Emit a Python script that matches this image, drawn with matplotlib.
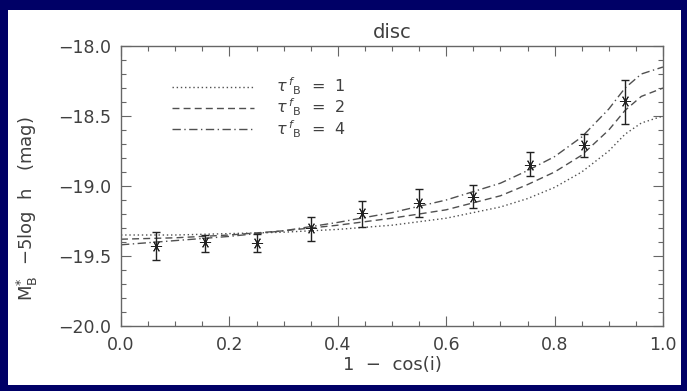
import matplotlib.pyplot as plt
import matplotlib.patches as mpatches

# measured points (1 - cos i) with error bars
x_obs = [0.065, 0.155, 0.25, 0.35, 0.445, 0.55, 0.65, 0.755, 0.855, 0.93]
y_obs = [-19.43, -19.40, -19.41, -19.30, -19.19, -19.12, -19.08, -18.85, -18.71, -18.39]
err_lo = [0.10, 0.07, 0.06, 0.09, 0.10, 0.10, 0.08, 0.08, 0.08, 0.17]
err_hi = [0.10, 0.05, 0.07, 0.08, 0.08, 0.10, 0.09, 0.09, 0.08, 0.15]

# model curves for the three face-on optical depths
x_mod = [0.0, 0.1, 0.2, 0.3, 0.4, 0.5, 0.6, 0.7, 0.75, 0.8, 0.85, 0.9, 0.93, 0.96, 1.0]
tau1 = [-19.35, -19.35, -19.34, -19.33, -19.31, -19.28, -19.23, -19.15, -19.09, -19.01, -18.90, -18.75, -18.63, -18.55, -18.50]
tau2 = [-19.38, -19.37, -19.35, -19.32, -19.28, -19.23, -19.17, -19.07, -18.99, -18.90, -18.78, -18.60, -18.46, -18.36, -18.30]
tau4 = [-19.42, -19.39, -19.36, -19.32, -19.26, -19.19, -19.10, -18.98, -18.89, -18.79, -18.65, -18.45, -18.30, -18.20, -18.15]

labels = [r"$\tau^{\,f}{}_{\rm B}$  =  1", r"$\tau^{\,f}{}_{\rm B}$  =  2", r"$\tau^{\,f}{}_{\rm B}$  =  4"]

ink = "#404040"
fig = plt.figure(figsize=(6.87, 3.91), dpi=100, facecolor="#000066")
# white panel inside the navy border
fig.add_artist(mpatches.Rectangle((8 / 687, 6 / 391), 673 / 687, 375 / 391,
                                  transform=fig.transFigure, facecolor="white",
                                  edgecolor="none", zorder=-1))

ax = fig.add_axes([121 / 687, 65 / 391, 542 / 687, 280 / 391])
ax.set_facecolor("white")

ax.plot(x_mod, tau1, color="#505050", lw=1.0, linestyle=(0, (1, 2)), label=labels[0])
ax.plot(x_mod, tau2, color="#505050", lw=1.0, linestyle=(0, (5, 3)), label=labels[1])
ax.plot(x_mod, tau4, color="#505050", lw=1.0, linestyle=(0, (6, 2.5, 1, 2.5)), label=labels[2])

ax.errorbar(x_obs, y_obs, yerr=[err_lo, err_hi], fmt="none", ecolor="#222222",
            elinewidth=1.0, capsize=3, capthick=1.0)
ax.plot(x_obs, y_obs, linestyle="none", marker=(6, 2, 90), markersize=8,
        markeredgewidth=0.7, color="#222222")

ax.set_xlim(0, 1)
ax.set_ylim(-20, -18)
ax.set_xticks([0.0, 0.2, 0.4, 0.6, 0.8, 1.0])
ax.set_xticks([i * 0.05 for i in range(21)], minor=True)
ax.set_yticks([-20.0, -19.5, -19.0, -18.5, -18.0])
ax.set_yticks([-20 + i * 0.1 for i in range(21)], minor=True)
ax.set_xticklabels(["0.0", "0.2", "0.4", "0.6", "0.8", "1.0"])
ax.set_yticklabels(["\u221220.0", "\u221219.5", "\u221219.0", "\u221218.5", "\u221218.0"])

for s in ax.spines.values():
    s.set_color("#666666")
    s.set_linewidth(1.0)
ax.tick_params(which="both", direction="in", top=True, right=True, colors="#666666",
               labelcolor=ink, labelsize=12.5)
ax.tick_params(which="major", length=7, width=0.8, pad=7)
ax.tick_params(which="minor", length=3.5, width=0.8)

ax.set_title("disc", color=ink, fontsize=14, pad=6)
ax.set_xlabel("1  \u2212  cos(i)", color=ink, fontsize=13, labelpad=2)
ax.set_ylabel(r"M$^{*}_{\rm B}$  $-$5log  h   (mag)", color=ink, fontsize=13)
ax.yaxis.set_label_coords(-0.15, 0.42)

leg = ax.legend(loc="upper left", bbox_to_anchor=(0.095, 0.895), frameon=False,
                fontsize=11.5, handlelength=5.1, handletextpad=1.35,
                labelspacing=0.0, borderpad=0, borderaxespad=0)
for t in leg.get_texts():
    t.set_color(ink)

fig.savefig("out.png", dpi=100, facecolor=fig.get_facecolor())
